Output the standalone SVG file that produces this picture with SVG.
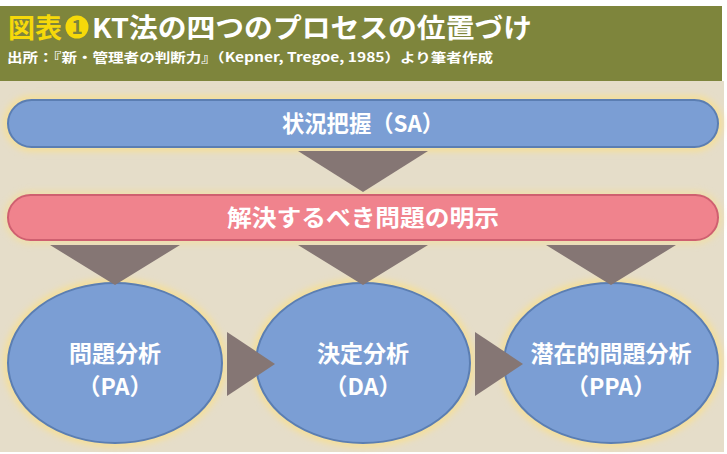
<svg xmlns="http://www.w3.org/2000/svg" width="727" height="454" viewBox="0 0 727 454">
<defs>
<style>
.jp{font-family:"Noto Sans CJK JP","Noto Sans",sans-serif;font-weight:bold}
.lbl{fill:#ffffff;font-size:23px;text-anchor:middle}
.blue{fill:#7b9ed4;stroke:#5b7eb2;stroke-width:2}
.red{fill:#f0838d;stroke:#cf6070;stroke-width:2}
.glow{fill:none;stroke:#f5df98;stroke-width:9}
.arr{fill:#857674}
</style>
<filter id="g" x="-10%" y="-30%" width="120%" height="160%"><feGaussianBlur stdDeviation="3"/></filter>
</defs>
<rect x="0" y="0" width="727" height="454" fill="#ffffff"/>
<rect x="0" y="6" width="722" height="75" fill="#7e853c"/>
<rect x="0" y="81" width="724" height="371" fill="#e5ddc9"/>
<g id="title">
<text x="8" y="38" class="jp" font-size="27" fill="#f6d90a">図表</text>
<circle cx="77" cy="27" r="11.5" fill="#f6d90a"/>
<text x="77" y="34" class="jp" font-size="19" fill="#7e853c" text-anchor="middle">1</text>
<text x="92" y="38" class="jp" font-size="27" fill="#ffffff" textLength="440" lengthAdjust="spacingAndGlyphs">KT法の四つのプロセスの位置づけ</text>
<text x="7" y="62" class="jp" font-size="13" fill="#ffffff" font-weight="normal" textLength="486" lengthAdjust="spacingAndGlyphs">出所：『新・管理者の判断力』（Kepner, Tregoe, 1985）より筆者作成</text>
</g>
<g id="sa">
<rect class="glow" filter="url(#g)" x="8" y="100" width="710" height="47" rx="23.5"/>
<rect class="blue" x="8" y="100" width="710" height="47" rx="23.5"/>
<text class="jp lbl" x="363" y="132" font-size="24" textLength="162" lengthAdjust="spacingAndGlyphs">状況把握（SA）</text>
</g>
<g id="problem">
<rect class="glow" filter="url(#g)" x="8" y="195" width="710" height="45" rx="22.5" opacity="0.6"/>
<rect class="red" x="8" y="195" width="710" height="45" rx="22.5"/>
<text class="jp lbl" x="363" y="226" font-size="24" textLength="272" lengthAdjust="spacingAndGlyphs">解決するべき問題の明示</text>
</g>
<g id="pa">
<ellipse class="glow" filter="url(#g)" cx="115" cy="363" rx="107" ry="80"/>
<ellipse class="blue" cx="115" cy="363" rx="107" ry="80"/>
<text class="jp lbl" x="115" y="362">問題分析</text>
<text class="jp lbl" x="115" y="395">（PA）</text>
</g>
<g id="da">
<ellipse class="glow" filter="url(#g)" cx="363" cy="363" rx="107" ry="80"/>
<ellipse class="blue" cx="363" cy="363" rx="107" ry="80"/>
<text class="jp lbl" x="363" y="362">決定分析</text>
<text class="jp lbl" x="363" y="395">（DA）</text>
</g>
<g id="ppa">
<ellipse class="glow" filter="url(#g)" cx="611" cy="363" rx="107" ry="80"/>
<ellipse class="blue" cx="611" cy="363" rx="107" ry="80"/>
<text class="jp lbl" x="611" y="362">潜在的問題分析</text>
<text class="jp lbl" x="611" y="395">（PPA）</text>
</g>
<g id="connectors">
<polygon class="arr" points="298,151 428,151 363,192"/>
<polygon class="arr" points="50,245 180,245 115,285"/>
<polygon class="arr" points="298,245 428,245 363,285"/>
<polygon class="arr" points="546,245 676,245 611,285"/>
<polygon class="arr" points="227,332 275,364 227,396"/>
<polygon class="arr" points="475,332 523,364 475,396"/>
</g>
</svg>
